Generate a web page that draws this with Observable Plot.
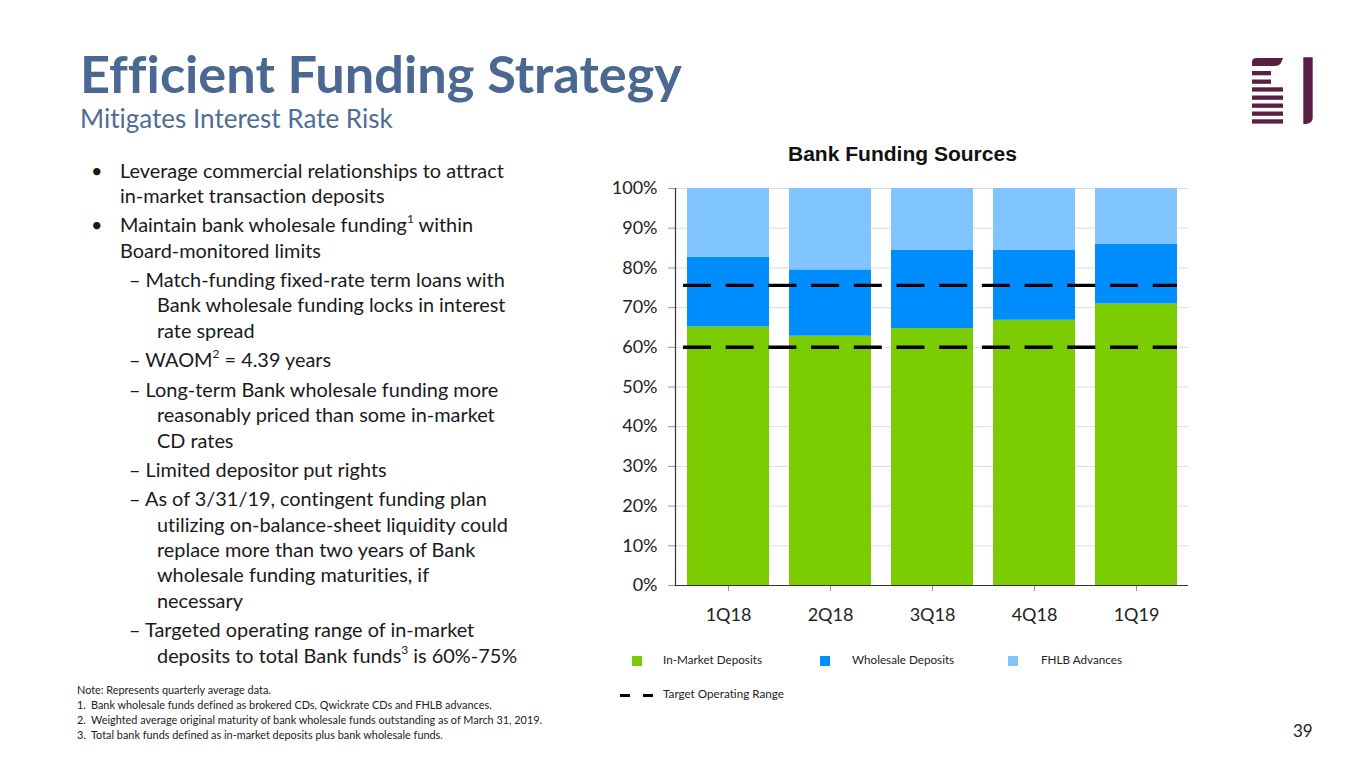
<!DOCTYPE html>
<html>
<head>
<meta charset="utf-8">
<script src="https://cdn.jsdelivr.net/npm/d3@7"></script>
<script src="https://cdn.jsdelivr.net/npm/@observablehq/plot@0.6"></script>
<style>
  html, body { margin:0; padding:0; background:#fff; }
  #page { position:relative; width:1365px; height:768px; overflow:hidden; font-family:Lato, "Open Sans", sans-serif; color:#1a1a1a; font-variant-ligatures:none; font-feature-settings:"liga" 0, "clig" 0; }
  .t { position:absolute; white-space:nowrap; line-height:1; }
  .body { font-size:19px; }
  .foot { font-size:10.5px; color:#222; }
  sup { font-size:0.6em; vertical-align:0; position:relative; top:-0.75em; }
  .sw { position:absolute; width:10px; height:10px; }
  .dash { position:absolute; width:10px; height:3.5px; background:#000; }
  #chart { position:absolute; left:590px; top:170px; }
</style>
</head>
<body>
<div id="page">
  <div class="t" id="title" style="left:80px; top:47px; font-size:46px; font-weight:700; color:#4a6891;">Efficient Funding Strategy</div>
  <div class="t" id="subtitle" style="left:80px; top:105px; font-size:25px; color:#4f6d94;">Mitigates Interest Rate Risk</div>

  <svg style="position:absolute; left:0; top:0;" width="1365" height="768" aria-hidden="true">
    <g fill="#5b1f45">
      <path d="M1252,66 L1252,62 Q1252,58 1257,58 L1283,58 L1281,63 Q1279,66 1275,66 Z"/>
      <rect x="1252" y="71" width="19" height="4.3"/>
      <rect x="1252" y="79.5" width="19" height="4.3"/>
      <rect x="1252" y="87.3" width="31" height="4.3"/>
      <rect x="1252" y="95.5" width="31" height="4.3"/>
      <rect x="1252" y="103.5" width="31" height="4.3"/>
      <rect x="1252" y="111.5" width="31" height="4.3"/>
      <rect x="1252" y="119.3" width="31" height="4.3"/>
      <path d="M1303.3,57.3 L1312.7,57.3 L1312.7,118 Q1312.7,123 1306,124 L1303.3,124 Z"/>
    </g>
  </svg>

  <div id="bodytext"></div>

  <div class="t" id="ctitle" style="left:788px; top:143px; font-family:'Liberation Sans', Arial, sans-serif; font-weight:700; font-size:19px; color:#111;">Bank Funding Sources</div>
  <div id="chart"></div>
  <div id="legend"></div>

  <div id="foot"></div>
  <div class="t" id="pnum" style="left:1293px; top:725px; font-size:17px; color:#222;">39</div>
</div>
<script>
// ---- data ----
const quarters = ["1Q18", "2Q18", "3Q18", "4Q18", "1Q19"];
const inMarket = [65.1, 62.8, 64.7, 66.8, 70.9];
const wholesale = [17.6, 16.7, 19.8, 17.7, 15.0];
const fhlb = [17.3, 20.5, 15.5, 15.5, 14.1];
const seriesNames = ["In-Market Deposits", "Wholesale Deposits", "FHLB Advances"];
const seriesColors = ["#7acc00", "#008eff", "#80c5ff"];
const targetRange = [60, 75.6];
const yTicks = [0, 10, 20, 30, 40, 50, 60, 70, 80, 90, 100];

const table = quarters.flatMap((q, i) => [
  {q, series: seriesNames[0], v: inMarket[i]},
  {q, series: seriesNames[1], v: wholesale[i]},
  {q, series: seriesNames[2], v: fhlb[i]}
]);

const chart = Plot.plot({
  width: 620, height: 460,
  marginLeft: 85, marginRight: 22, marginTop: 18, marginBottom: 45,
  style: {fontFamily: "Lato, 'Open Sans', sans-serif", fontSize: "18px", color: "#222", background: "transparent", overflow: "visible"},
  x: {domain: quarters, paddingInner: 0.2, paddingOuter: 0.1, label: null},
  y: {domain: [0, 100], label: null},
  color: {domain: seriesNames, range: seriesColors},
  marks: [
    Plot.gridY(yTicks, {stroke: "#dcdcdc", strokeOpacity: 1}),
    Plot.barY(table, {x: "q", y: "v", fill: "series"}),
    Plot.ruleY(targetRange, {stroke: "#000", strokeWidth: 3.4, strokeDasharray: "28,14.7", insetLeft: 8, insetRight: 11}),
    Plot.axisY(yTicks, {tickFormat: d => d + "%", tickSize: 7, tickPadding: 11, stroke: "#999", fill: "#222"}),
    Plot.axisX({tickSize: 6, tickPadding: 17, stroke: "#999", fill: "#222"}),
    Plot.ruleY([0], {stroke: "#333", strokeWidth: 1.2}),
    Plot.frame({anchor: "left", stroke: "#333", strokeWidth: 1.2})
  ]
});
document.getElementById("chart").appendChild(chart);

// ---- body text ----
const bodyLines = [
  {x: 120, y: 173, b: true, h: "Leverage commercial relationships to attract"},
  {x: 120, y: 198, h: "in-market transaction deposits"},
  {x: 120, y: 227, b: true, h: "Maintain bank wholesale funding<sup>1</sup> within"},
  {x: 120, y: 253, h: "Board-monitored limits"},
  {x: 129, y: 282, h: "– Match-funding fixed-rate term loans with"},
  {x: 157, y: 307, h: "Bank wholesale funding locks in interest"},
  {x: 157, y: 333, h: "rate spread"},
  {x: 129, y: 362, h: "– WAOM<sup>2</sup> = 4.39 years"},
  {x: 129, y: 392, h: "– Long-term Bank wholesale funding more"},
  {x: 157, y: 417, h: "reasonably priced than some in-market"},
  {x: 157, y: 443, h: "CD rates"},
  {x: 129, y: 472, h: "– Limited depositor put rights"},
  {x: 129, y: 501, h: "– As of 3/31/19, contingent funding plan"},
  {x: 157, y: 527, h: "utilizing on-balance-sheet liquidity could"},
  {x: 157, y: 552, h: "replace more than two years of Bank"},
  {x: 157, y: 577, h: "wholesale funding maturities, if"},
  {x: 157, y: 603, h: "necessary"},
  {x: 129, y: 632, h: "– Targeted operating range of in-market"},
  {x: 157, y: 658, h: "deposits to total Bank funds<sup>3</sup> is 60%-75%"}
];
const bt = document.getElementById("bodytext");
const bodyEls = bodyLines.map(l => {
  const d = document.createElement("div");
  d.className = "t body";
  d.style.left = l.x + "px";
  d.innerHTML = l.h;
  bt.appendChild(d);
  if (l.b) {
    const b = document.createElement("div");
    b.className = "t body";
    b.style.left = "91px";
    b.textContent = "•";
    bt.appendChild(b);
    return [d, b];
  }
  return [d];
}).map((arr, i) => { arr.forEach(e => e._cy = bodyLines[i].y); return arr; }).flat();

function fitWidth(el, w) {
  const cur = el.getBoundingClientRect().width;
  const fs = parseFloat(getComputedStyle(el).fontSize);
  const n = fs * w / cur;
  el.style.fontSize = n + "px";
  return n;
}
function placeCenter(el, cy) {
  const fs = parseFloat(getComputedStyle(el).fontSize);
  el.style.top = (cy - 0.62 * fs) + "px";
}

const bfs = fitWidth(bodyEls[0], 384);
bodyEls.forEach(e => { e.style.fontSize = bfs + "px"; placeCenter(e, e._cy); });

fitWidth(document.getElementById("title"), 602);
fitWidth(document.getElementById("subtitle"), 313);
fitWidth(document.getElementById("ctitle"), 229);

// ---- legend ----
const lg = document.getElementById("legend");
const legendItems = [
  {sx: 632, tx: 663},
  {sx: 820, tx: 852},
  {sx: 1008, tx: 1041}
];
let lfs = null;
seriesNames.forEach((name, i) => {
  const s = document.createElement("div");
  s.className = "sw";
  s.style.left = legendItems[i].sx + "px";
  s.style.top = "656px";
  s.style.background = seriesColors[i];
  lg.appendChild(s);
  const t = document.createElement("div");
  t.className = "t";
  t.style.left = legendItems[i].tx + "px";
  t.style.fontSize = "12.5px";
  t.style.color = "#222";
  t.textContent = name;
  lg.appendChild(t);
  if (i === 0) lfs = fitWidth(t, 99);
  t.style.fontSize = lfs + "px";
  placeCenter(t, 661);
});
[620, 643].forEach(x => {
  const d = document.createElement("div");
  d.className = "dash";
  d.style.left = x + "px";
  d.style.top = "693.5px";
  lg.appendChild(d);
});
{
  const t = document.createElement("div");
  t.className = "t";
  t.style.left = "663px";
  t.style.fontSize = lfs + "px";
  t.style.color = "#222";
  t.textContent = "Target Operating Range";
  lg.appendChild(t);
  placeCenter(t, 695);
}

// ---- footnotes ----
const footLines = [
  {n: "", t: "Note: Represents quarterly average data.", y: 692},
  {n: "1.", t: "Bank wholesale funds defined as brokered CDs, Qwickrate CDs and FHLB advances.", y: 707},
  {n: "2.", t: "Weighted average original maturity of bank wholesale funds outstanding as of March 31, 2019.", y: 722},
  {n: "3.", t: "Total bank funds defined as in-market deposits plus bank wholesale funds.", y: 737}
];
const ft = document.getElementById("foot");
const footEls = [];
footLines.forEach(f => {
  if (f.n) {
    const n = document.createElement("div");
    n.className = "t foot";
    n.style.left = "77px";
    n.textContent = f.n;
    n._cy = f.y;
    ft.appendChild(n);
    footEls.push(n);
  }
  const d = document.createElement("div");
  d.className = "t foot";
  d.style.left = (f.n ? 91 : 77) + "px";
  d.textContent = f.t;
  d._cy = f.y;
  ft.appendChild(d);
  footEls.push(d);
});
const longFoot = footEls.find(e => e.textContent.startsWith("Weighted"));
const ffs = fitWidth(longFoot, 452);
footEls.forEach(e => { e.style.fontSize = ffs + "px"; placeCenter(e, e._cy); });
placeCenter(document.getElementById("pnum"), 733);
</script>
</body>
</html>
